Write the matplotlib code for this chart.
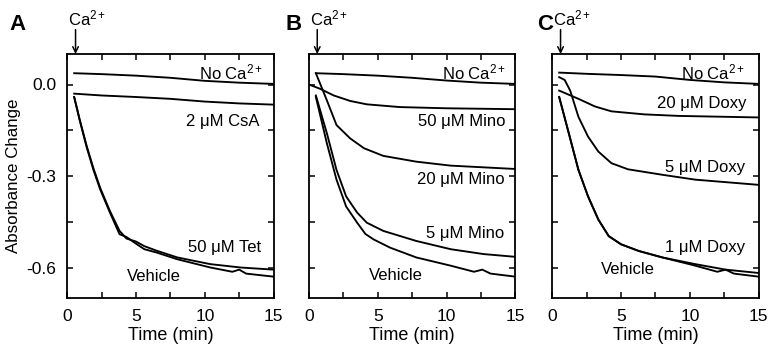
import matplotlib
matplotlib.use("Agg")
import matplotlib.pyplot as plt

plt.rcParams['font.family'] = ['Liberation Sans', 'DejaVu Sans']
plt.rcParams['axes.unicode_minus'] = False
plt.rcParams['mathtext.fontset'] = 'custom'
plt.rcParams['mathtext.rm'] = 'Liberation Sans'
plt.rcParams['mathtext.it'] = 'Liberation Sans:italic'

# ---------------- Data ----------------
# Panel A
tA_noca = [0.5, 2.5, 5, 7.5, 10, 12.5, 15]
vA_noca = [0.037, 0.034, 0.029, 0.022, 0.012, 0.006, 0.002]
tA_csa = [0.5, 2.5, 5, 7.5, 10, 12.5, 15]
vA_csa = [-0.030, -0.036, -0.041, -0.047, -0.056, -0.062, -0.066]
tA_veh = [0.5, 0.9, 1.4, 1.9, 2.4, 3.1, 3.8, 4.3, 5.0, 5.6, 6.5, 8.0, 10.4, 12.0, 12.5, 13.0, 15]
vA_veh = [-0.041, -0.117, -0.204, -0.280, -0.345, -0.420, -0.491, -0.500, -0.522, -0.540, -0.551,
          -0.573, -0.600, -0.614, -0.607, -0.620, -0.630]
tA_tet = [0.5, 0.9, 1.4, 1.9, 2.4, 3.1, 3.8, 4.3, 5.0, 5.6, 6.5, 8.0, 10.4, 12.6, 15]
vA_tet = [-0.041, -0.115, -0.200, -0.275, -0.340, -0.415, -0.480, -0.505, -0.515, -0.530, -0.545,
          -0.567, -0.589, -0.600, -0.607]

# Panel B
tB_noca = [0.5, 2.5, 5, 7.5, 10, 12.5, 15]
vB_noca = [0.037, 0.034, 0.029, 0.022, 0.013, 0.006, 0.002]
tB_m50 = [0.0, 0.8, 1.8, 3.0, 4.2, 6.6, 10, 15]
vB_m50 = [0.0, -0.014, -0.036, -0.054, -0.065, -0.074, -0.078, -0.081]
tB_m20 = [0.5, 1.3, 2.0, 3.0, 4.0, 5.4, 7.8, 10.3, 15]
vB_m20 = [0.037, -0.052, -0.133, -0.177, -0.209, -0.234, -0.253, -0.266, -0.277]
tB_m5 = [0.5, 1.3, 2.0, 2.7, 3.5, 4.2, 5.4, 7.8, 10.3, 12.7, 15]
vB_m5 = [-0.036, -0.160, -0.280, -0.367, -0.420, -0.453, -0.480, -0.513, -0.540, -0.556, -0.565]
tB_veh = [0.5, 1.3, 2.0, 2.7, 3.5, 4.1, 4.7, 5.9, 7.8, 10.3, 12.0, 12.6, 13.2, 15]
vB_veh = [-0.041, -0.193, -0.312, -0.400, -0.453, -0.490, -0.508, -0.535, -0.567, -0.594,
          -0.614, -0.607, -0.620, -0.630]

# Panel C
tC_noca = [0.5, 2.5, 5, 7.5, 10, 12.5, 15]
vC_noca = [0.039, 0.035, 0.031, 0.026, 0.015, 0.007, 0.002]
tC_d20 = [0.5, 1.9, 3.1, 4.3, 6.7, 9.2, 15]
vC_d20 = [-0.020, -0.047, -0.072, -0.088, -0.098, -0.103, -0.108]
tC_d5 = [0.5, 0.9, 1.3, 1.9, 2.6, 3.35, 4.3, 5.5, 8.0, 10.4, 15]
vC_d5 = [0.024, 0.015, -0.020, -0.106, -0.171, -0.220, -0.258, -0.278, -0.296, -0.312, -0.329]
tC_d1 = [0.5, 1.2, 1.9, 2.6, 3.35, 4.1, 5.0, 6.3, 8.0, 10.4, 12.6, 15]
vC_d1 = [-0.041, -0.160, -0.280, -0.367, -0.443, -0.497, -0.524, -0.546, -0.567, -0.589,
         -0.607, -0.618]
tC_veh = [0.5, 1.2, 1.9, 2.6, 3.35, 4.1, 5.0, 6.3, 8.0, 10.4, 12.0, 12.6, 13.2, 15]
vC_veh = [-0.041, -0.160, -0.280, -0.367, -0.443, -0.497, -0.524, -0.546, -0.567, -0.594,
          -0.614, -0.607, -0.620, -0.630]

x_ticks = [0, 2.5, 5, 7.5, 10, 12.5, 15]
x_ticklabels = ['0', '', '5', '', '10', '', '15']
y_ticks = [-0.6, -0.45, -0.3, -0.15, 0.0]
y_ticklabels = ['-0.6', '', '-0.3', '', '0.0']

panels = [
    dict(letter='A', curves=[(tA_noca, vA_noca), (tA_csa, vA_csa), (tA_veh, vA_veh), (tA_tet, vA_tet)],
         labels=[('No Ca$^{2+}$', 14.2, 0.038), ('2 \u03bcM CsA', 14.0, -0.122),
                 ('50 \u03bcM Tet', 14.1, -0.536), ('Vehicle', None, -0.628)]),
    dict(letter='B', curves=[(tB_noca, vB_noca), (tB_m50, vB_m50), (tB_m20, vB_m20), (tB_m5, vB_m5), (tB_veh, vB_veh)],
         labels=[('No Ca$^{2+}$', 14.3, 0.038), ('50 \u03bcM Mino', 14.3, -0.121),
                 ('20 \u03bcM Mino', 14.2, -0.310), ('5 \u03bcM Mino', 14.2, -0.489), ('Vehicle', None, -0.626)]),
    dict(letter='C', curves=[(tC_noca, vC_noca), (tC_d20, vC_d20), (tC_d5, vC_d5), (tC_d1, vC_d1), (tC_veh, vC_veh)],
         labels=[('No Ca$^{2+}$', 14.0, 0.040), ('20 \u03bcM Doxy', 14.1, -0.062),
                 ('5 \u03bcM Doxy', 14.0, -0.271), ('1 \u03bcM Doxy', 14.0, -0.535), ('Vehicle', None, -0.606)]),
]
vehicle_x = [6.3, 6.3, 5.5]

W, H = 771, 348
fig = plt.figure(figsize=(W / 100, H / 100), dpi=100)
lefts = [67.3, 309.0, 552.3]
letter_x = [18, 294, 545]
aw, top, bot = 206.3, 54, 298

for i, p in enumerate(panels):
    ax = fig.add_axes([lefts[i] / W, 1 - bot / H, aw / W, (bot - top) / H])
    for t, v in p['curves']:
        ax.plot(t, v, color='black', lw=1.35)
    ax.set_xlim(0, 15)
    ax.set_ylim(-0.7, 0.1)
    ax.set_xticks(x_ticks)
    ax.set_xticklabels(x_ticklabels)
    ax.set_yticks(y_ticks)
    if i == 0:
        ax.set_yticklabels(y_ticklabels)
        ax.set_ylabel('Absorbance Change', fontsize=12.2, labelpad=4)
    else:
        ax.set_yticklabels([])
    ax.tick_params(direction='in', length=4, width=1.1, top=True, right=True,
                   labelsize=12.5, pad=8, color='black')
    for s in ax.spines.values():
        s.set_linewidth(1.3)
    ax.set_xlabel('Time (min)', fontsize=13, labelpad=2)
    for txt, x, y in p['labels']:
        if x is None:
            ax.text(vehicle_x[i], y, txt, ha='center', va='center', fontsize=12)
        else:
            ax.text(x, y, txt, ha='right', va='center', fontsize=12)
    # Ca2+ arrow
    ax.annotate('', xy=(0.6, 1.0), xytext=(0.6, 1.10),
                xycoords=('data', 'axes fraction'), textcoords=('data', 'axes fraction'),
                arrowprops=dict(arrowstyle='->', color='black', lw=1.1, shrinkA=0, shrinkB=0))
    ax.text(0.05, 1.105, 'Ca$^{2+}$', transform=ax.get_xaxis_transform(), ha='left', va='bottom',
            fontsize=12)
    fig.text(letter_x[i] / W, 1 - 25 / H, p['letter'], fontsize=16, fontweight='bold',
             ha='center', va='center')

fig.savefig('out.png', dpi=100)
